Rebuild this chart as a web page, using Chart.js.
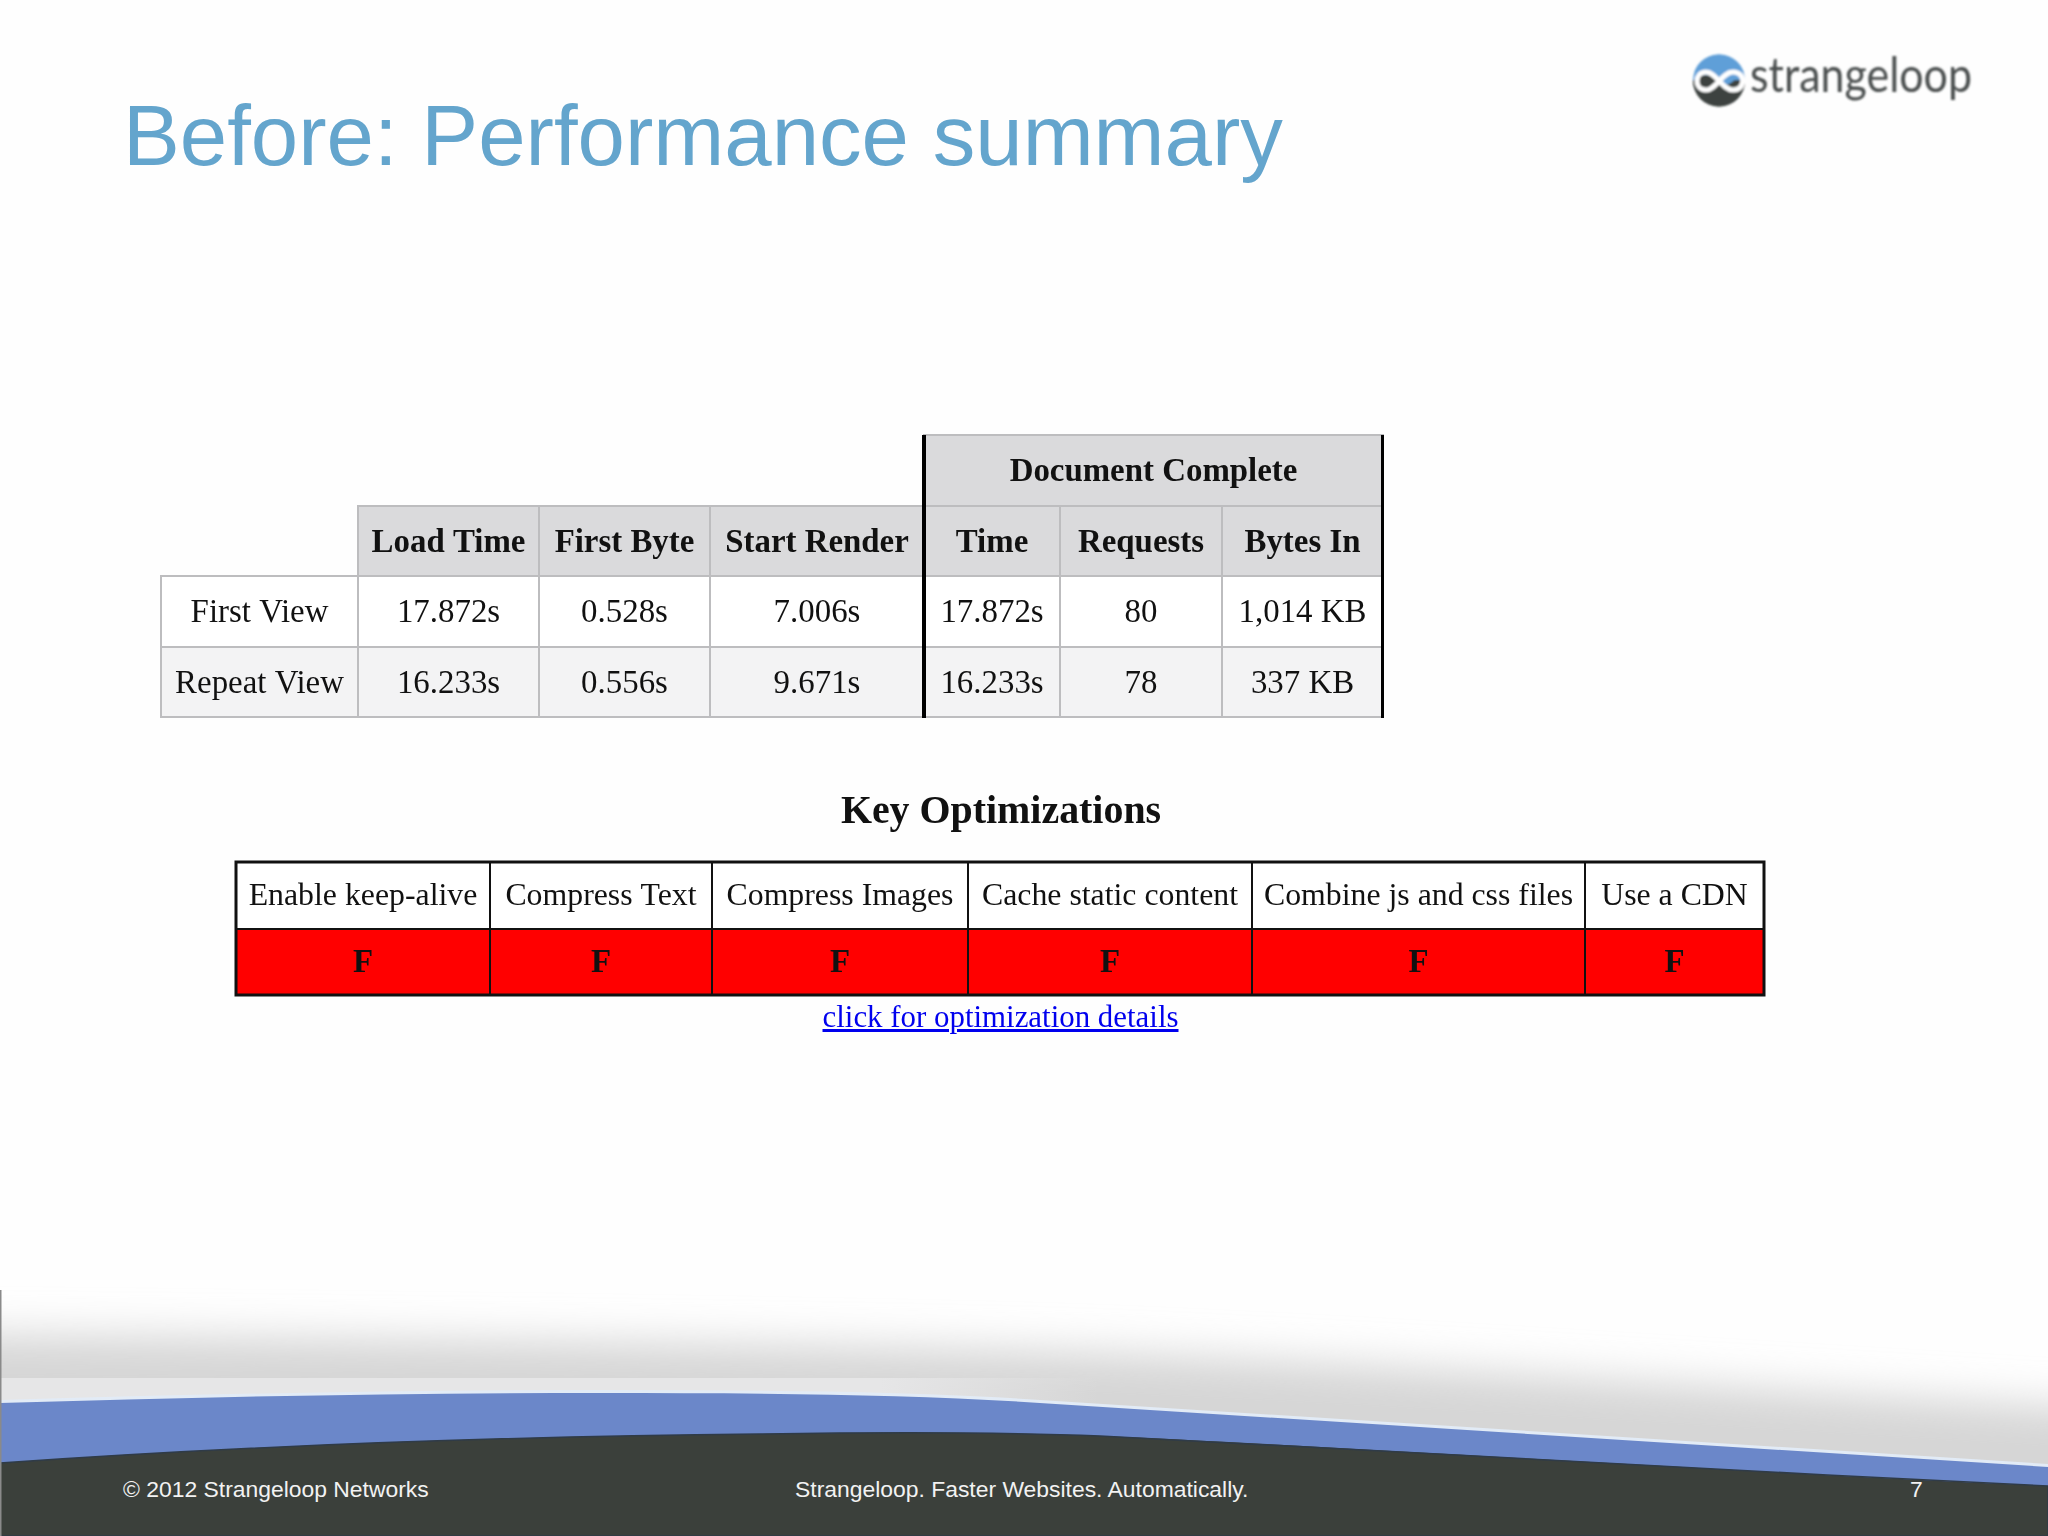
<!DOCTYPE html>
<html><head><meta charset="utf-8">
<script src="https://cdn.jsdelivr.net/npm/chart.js@4"></script>
<style>
html,body{margin:0;padding:0;background:#fff;}
#slide{position:relative;width:2048px;height:1536px;overflow:hidden;background:#fefefe;}
#deco{position:absolute;left:0;top:0;}
canvas{position:absolute;filter:blur(0.4px);}
.t{position:absolute;white-space:nowrap;}
#title{left:123px;top:86px;font:85.2px/100px "Liberation Sans",Arial,sans-serif;color:#64a5cd;}
#key{left:0;width:2002px;text-align:center;top:786px;font:bold 39.9px/48px "Liberation Serif",serif;color:#111;filter:blur(0.4px);}
#link{left:0;width:2001px;text-align:center;top:998px;font:30.9px/38px "Liberation Serif",serif;color:#0000ee;text-decoration:underline;filter:blur(0.4px);}
.f{font:22.9px/30px "Liberation Sans",Arial,sans-serif;color:#f2f2f2;top:1474px;}
</style></head><body>
<div id="slide">
<svg id="deco" width="2048" height="1536" viewBox="0 0 2048 1536">
 <defs>
  <filter id="b" x="-10%" y="-100%" width="120%" height="300%"><feGaussianBlur stdDeviation="20"/></filter>
  <filter id="s"><feGaussianBlur stdDeviation="0.8"/></filter>
  <clipPath id="top"><path d="M0,1270 H2048 V1467 L1024,1402 C900,1394 760,1393 600,1393 C400,1393 200,1397 0,1403 Z"/></clipPath>
  <clipPath id="ci"><circle cx="1719" cy="80.5" r="26"/></clipPath>
  <linearGradient id="band" x1="0" x2="1" y1="0" y2="0"><stop offset="0.8" stop-color="#e6e6e7"/><stop offset="1" stop-color="#e6e6e7" stop-opacity="0"/></linearGradient>
 </defs>
 <g clip-path="url(#top)">
  <path d="M-200,1332 C300,1338 700,1342 1024,1350 C1300,1358 1677,1385 2300,1420 V1600 H-200 Z" fill="#d6d6d6" filter="url(#b)"/>
  <path d="M0,1378 H1100 V1415 H0 Z" fill="url(#band)"/>
 </g>
 <path d="M0,1403 C200,1397 400,1393 600,1393 C760,1393 900,1394 1024,1402 L2048,1467" fill="none" stroke="#e2ebf6" stroke-width="6"/>
 <path d="M0,1403 C200,1397 400,1393 600,1393 C760,1393 900,1394 1024,1402 L2048,1467 V1536 H0 Z" fill="#6b87c9"/>
 <path d="M0,1463 C200,1449 450,1437 760,1434 C900,1432 1000,1432 1100,1436 C1300,1444 1700,1470 2048,1486 V1536 H0 Z" fill="#3b403b" stroke="#2f3b48" stroke-width="1.5"/>
 <rect x="0" y="1290" width="1.5" height="246" fill="#8a8a8a"/>
 <g filter="url(#s)">
  <g clip-path="url(#ci)">
   <rect x="1690" y="50" width="60" height="32" fill="#5f9fd8"/>
   <rect x="1690" y="80" width="60" height="32" fill="#3c4341"/>
   <path d="M1690,86 C1700,70 1712,74 1720,82 C1728,92 1738,94 1748,76 V112 H1690 Z" fill="#3c4341"/>
   <path d="M1690,76 C1702,62 1712,72 1720,82 C1728,92 1738,74 1748,70 V50 H1690 Z" fill="#5f9fd8"/>
  </g>
  <path d="M1706,72 C1694,72 1694,90 1706,90 C1716,90 1722,72 1733,72 C1746,72 1746,90 1733,90 C1722,90 1716,72 1706,72 Z" fill="none" stroke="#fff" stroke-width="5"/>
  <text x="1750" y="92" font-family="Lato" font-size="49" fill="#4b5050" textLength="222" lengthAdjust="spacingAndGlyphs">strangeloop</text>
 </g>
</svg>
<div class="t" id="title">Before: Performance summary</div>
<canvas id="summary" width="1230" height="290" style="left:157px;top:431px"></canvas>
<div class="t" id="key">Key Optimizations</div>
<canvas id="optim" width="1536" height="141" style="left:232px;top:858px"></canvas>
<div class="t" id="link">click for optimization details</div>
<div class="t f" style="left:123px">© 2012 Strangeloop Networks</div>
<div class="t f" style="left:795px">Strangeloop. Faster Websites. Automatically.</div>
<div class="t f" style="left:1910px">7</div>
</div>
<script>
// --- table contents ---
const groupHeader = 'Document Complete';
const summaryHeaders = ['', 'Load Time', 'First Byte', 'Start Render', 'Time', 'Requests', 'Bytes In'];
const firstView = ['First View', '17.872s', '0.528s', '7.006s', '17.872s', '80', '1,014 KB'];
const repeatView = ['Repeat View', '16.233s', '0.556s', '9.671s', '16.233s', '78', '337 KB'];
const optimNames = ['Enable keep-alive', 'Compress Text', 'Compress Images', 'Cache static content', 'Combine js and css files', 'Use a CDN'];
const optimGrades = ['F', 'F', 'F', 'F', 'F', 'F'];

// --- layout (column widths, px) ---
const summaryWidths = [197, 181, 171, 214, 136, 162, 161];
const optimWidths = [254, 222, 256, 284, 333, 179];
const sum = a => a.reduce((p, c) => p + c, 0);

Chart.defaults.animation = false;

function tableChart(id, rows, widths, pad, draw) {
  return new Chart(document.getElementById(id), {
    type: 'bar',
    data: {
      labels: rows,
      datasets: widths.map(w => ({ data: rows.map(() => w), backgroundColor: 'rgba(0,0,0,0)', barPercentage: 1, categoryPercentage: 1, borderWidth: 0 }))
    },
    options: {
      indexAxis: 'y', responsive: false, devicePixelRatio: 1, events: [],
      layout: { padding: pad },
      plugins: { legend: { display: false }, tooltip: { enabled: false } },
      scales: {
        x: { stacked: true, display: false, min: 0, max: sum(widths) },
        y: { stacked: true, display: false }
      }
    },
    plugins: [{ id: 'cells', afterDatasetsDraw: draw }]
  });
}

function cell(chart, col, row) {
  const el = chart.getDatasetMeta(col).data[row];
  return { l: Math.round(el.base), r: Math.round(el.x), t: Math.round(el.y - el.height / 2), b: Math.round(el.y + el.height / 2) };
}
function label(ctx, text, x, y, font, color) {
  ctx.font = font; ctx.fillStyle = color; ctx.textAlign = 'center'; ctx.textBaseline = 'middle';
  ctx.fillText(text, x, y);
}

const serifA = '32.9px "Liberation Serif", serif';
const serifB = 'bold 32.9px "Liberation Serif", serif';
const serifC = '31.8px "Liberation Serif", serif';

tableChart('summary', ['group', 'header', 'First View', 'Repeat View'], summaryWidths, 4, chart => {
  const ctx = chart.ctx;
  const table = [null, summaryHeaders, firstView, repeatView];
  const fills = [null, '#dadadc', '#ffffff', '#f3f3f4'];
  ctx.save();
  for (let row = 1; row < 4; row++) for (let col = 0; col < 7; col++) {
    if (row === 1 && col === 0) continue;
    const c = cell(chart, col, row);
    ctx.fillStyle = fills[row]; ctx.fillRect(c.l, c.t, c.r - c.l, c.b - c.t);
    ctx.strokeStyle = '#bdbdbf'; ctx.lineWidth = 2; ctx.strokeRect(c.l, c.t, c.r - c.l, c.b - c.t);
    label(ctx, table[row][col], (c.l + c.r) / 2, (c.t + c.b) / 2 + 2, row === 1 ? serifB : serifA, '#111');
  }
  const a = cell(chart, 4, 0), z = cell(chart, 6, 0);
  ctx.fillStyle = '#dadadc'; ctx.fillRect(a.l, a.t, z.r - a.l, a.b - a.t);
  ctx.strokeStyle = '#bdbdbf'; ctx.lineWidth = 2; ctx.strokeRect(a.l, a.t, z.r - a.l, a.b - a.t);
  label(ctx, groupHeader, (a.l + z.r) / 2, (a.t + a.b) / 2 + 2, serifB, '#111');
  const bottom = cell(chart, 4, 3).b;
  ctx.fillStyle = '#000';
  ctx.fillRect(a.l - 2, a.t, 4, bottom - a.t + 1);
  ctx.fillRect(z.r - 2, a.t, 3, bottom - a.t + 1);
  ctx.restore();
});

tableChart('optim', ['names', 'grades'], optimWidths, 4, chart => {
  const ctx = chart.ctx;
  ctx.save();
  for (let col = 0; col < 6; col++) {
    const h = cell(chart, col, 0), g = cell(chart, col, 1);
    ctx.fillStyle = '#ffffff'; ctx.fillRect(h.l, h.t, h.r - h.l, h.b - h.t);
    ctx.fillStyle = '#ff0000'; ctx.fillRect(g.l, g.t, g.r - g.l, g.b - g.t);
    ctx.strokeStyle = '#111'; ctx.lineWidth = 2;
    ctx.strokeRect(h.l, h.t, h.r - h.l, h.b - h.t);
    ctx.strokeRect(g.l, g.t, g.r - g.l, g.b - g.t);
    label(ctx, optimNames[col], (h.l + h.r) / 2, (h.t + h.b) / 2 + 1, serifC, '#111');
    label(ctx, optimGrades[col], (g.l + g.r) / 2, (g.t + g.b) / 2 + 1, serifB, '#111');
  }
  const a = cell(chart, 0, 0), z = cell(chart, 5, 1);
  ctx.strokeStyle = '#111'; ctx.lineWidth = 3; ctx.strokeRect(a.l, a.t, z.r - a.l, z.b - a.t);
  ctx.restore();
});
</script>
</body></html>
